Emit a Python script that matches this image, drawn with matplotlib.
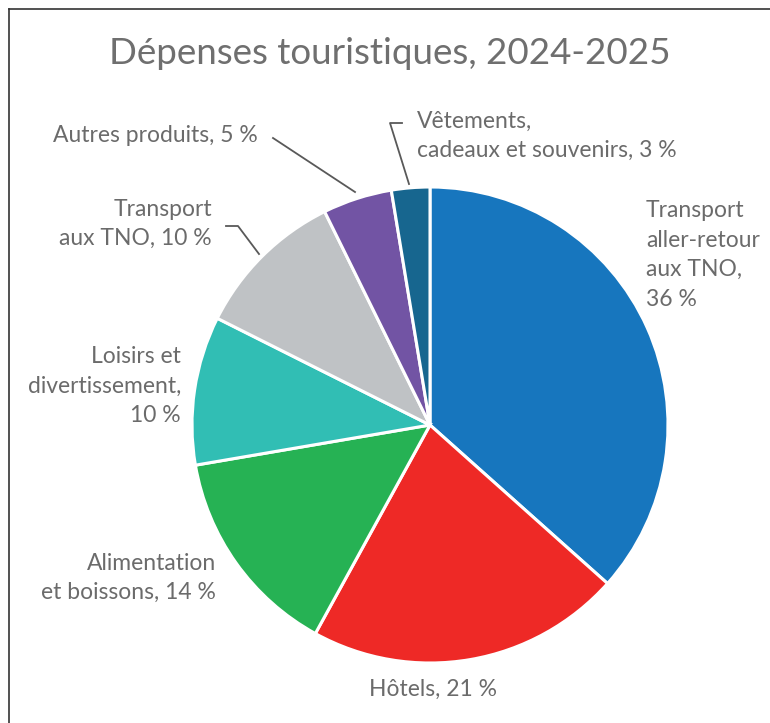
import matplotlib
matplotlib.use("Agg")
import matplotlib.pyplot as plt
from matplotlib.lines import Line2D

# donnees (parts en %)
categories = ["Transport aller-retour aux TNO", "Hôtels", "Alimentation et boissons",
              "Loisirs et divertissement", "Transport aux TNO", "Autres produits",
              "Vêtements, cadeaux et souvenirs"]
values = [36.6, 21.4, 14.3, 10.1, 10.3, 4.7, 2.6]
labels = ["Transport\naller-retour\naux TNO,\n36 %", "Hôtels, 21 %",
          "Alimentation\net boissons, 14 %", "Loisirs et\ndivertissement,\n10 %",
          "Transport\naux TNO, 10 %", "Autres produits, 5 %",
          "Vêtements,\ncadeaux et souvenirs, 3 %"]
colors = ["#1776BE", "#EE2926", "#26B254", "#31BEB4", "#BFC2C5", "#7254A4", "#17668F"]

W, H = 770, 723
cx, cy, r = 430, 425, 238
txt_col = "#6b6b6b"
plt.rcParams['font.family'] = ['Lato', 'DejaVu Sans']

fig = plt.figure(figsize=(W/100, H/100), dpi=100)
ax = fig.add_axes([(cx-r)/W, (H-cy-r)/H, 2*r/W, 2*r/H])
ax.pie(values, colors=colors, startangle=90, counterclock=False, radius=1,
       wedgeprops=dict(edgecolor="white", linewidth=2.2))
ax.set_xlim(-1, 1)
ax.set_ylim(-1, 1)
ax.set_aspect('equal')
ax.axis('off')

def d(px, py):
    # pixels -> coordonnees du camembert
    return (px-cx)/r, (cy-py)/r

# position, alignement des etiquettes
lab_pos = [((646, 255), 'left'), ((433, 689), 'center'), ((216, 578), 'right'),
           ((181, 386), 'right'), ((212, 224), 'right'), ((258, 135), 'right'),
           ((417, 136), 'left')]
for lab, ((px, py), ha) in zip(labels, lab_pos):
    x, y = d(px, py)
    ax.text(x, y, lab, ha=ha, va='center', fontsize=16.5, color=txt_col,
            linespacing=1.5, clip_on=False)

# lignes de rappel
leaders = [[(273, 138), (355, 192)],
           [(402, 123), (390, 123), (409, 184)],
           [(226, 226), (238, 226), (259, 254)]]
for pts in leaders:
    xs = [d(*p)[0] for p in pts]
    ys = [d(*p)[1] for p in pts]
    ax.plot(xs, ys, color="#595959", lw=1.3, clip_on=False)

fig.text(390/W, 1-53/H, "Dépenses touristiques, 2024-2025", ha='center', va='center',
         fontsize=26.5, color="#6f6f6f")

# bordure (haut et gauche)
fig.add_artist(Line2D([9/W, 9/W], [0, 1-9/H], transform=fig.transFigure, color="#333333", lw=1.2))
fig.add_artist(Line2D([9/W, 1], [1-9/H, 1-9/H], transform=fig.transFigure, color="#333333", lw=1.2))

fig.savefig("out.png", dpi=100, facecolor="white")
